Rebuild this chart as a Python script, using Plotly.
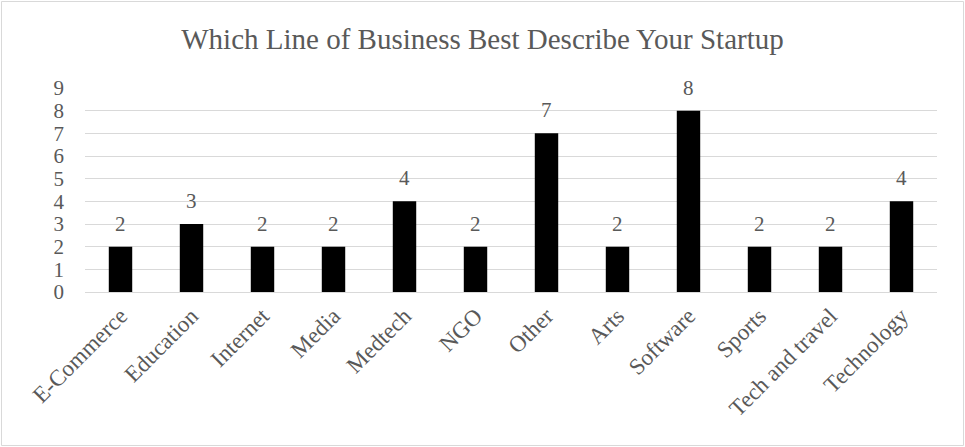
import plotly.graph_objects as go

categories = ["E-Commerce", "Education", "Internet", "Media", "Medtech", "NGO",
              "Other", "Arts", "Software", "Sports", "Tech and travel", "Technology"]
counts = [2, 3, 2, 2, 4, 2, 7, 2, 8, 2, 2, 4]
y_ticks = list(range(0, 10))

W, H = 965, 447
ml, mr, mt, mb = 85, 28, 88, 155
FONT = "Liberation Serif, Times New Roman, serif"
GRAY = "#595959"

fig = go.Figure(go.Bar(
    x=categories, y=counts,
    marker=dict(color="black", line=dict(width=0)),
    cliponaxis=False,
))

for c, v in zip(categories, counts):
    fig.add_annotation(x=c, y=v, text=str(v), showarrow=False,
                       yanchor="bottom", yshift=9,
                       font=dict(family=FONT, size=21, color=GRAY))

pw, ph = W - ml - mr, H - mt - mb
fig.add_shape(type="rect", xref="paper", yref="paper",
              x0=-(ml - 1.5) / pw, x1=1 + (mr - 1.5) / pw,
              y0=-(mb - 1.5) / ph, y1=1 + (mt - 1.5) / ph,
              line=dict(color="#d9d9d9", width=1))

fig.update_layout(
    width=W, height=H,
    margin=dict(l=ml, r=mr, t=mt, b=mb),
    paper_bgcolor="white", plot_bgcolor="white",
    title=dict(text="Which Line of Business Best Describe Your Startup",
               x=0.5, xanchor="center", y=1 - 39 / H, yanchor="middle",
               font=dict(family=FONT, size=29, color=GRAY)),
    bargap=0.67,
    showlegend=False,
    font=dict(family=FONT, color=GRAY),
)
fig.update_yaxes(range=[0, 9], tickvals=y_ticks, showgrid=True, gridcolor="#d9d9d9",
                 gridwidth=1, zeroline=True, zerolinecolor="#d9d9d9", zerolinewidth=1,
                 showline=False, ticks="", tickfont=dict(family=FONT, size=21, color=GRAY),
                 ticklabelstandoff=20)
fig.update_xaxes(tickangle=-45, showgrid=False, showline=False, ticks="",
                 tickfont=dict(family=FONT, size=23, color=GRAY),
                 ticklabelstandoff=5)

fig.write_html("out.html")
